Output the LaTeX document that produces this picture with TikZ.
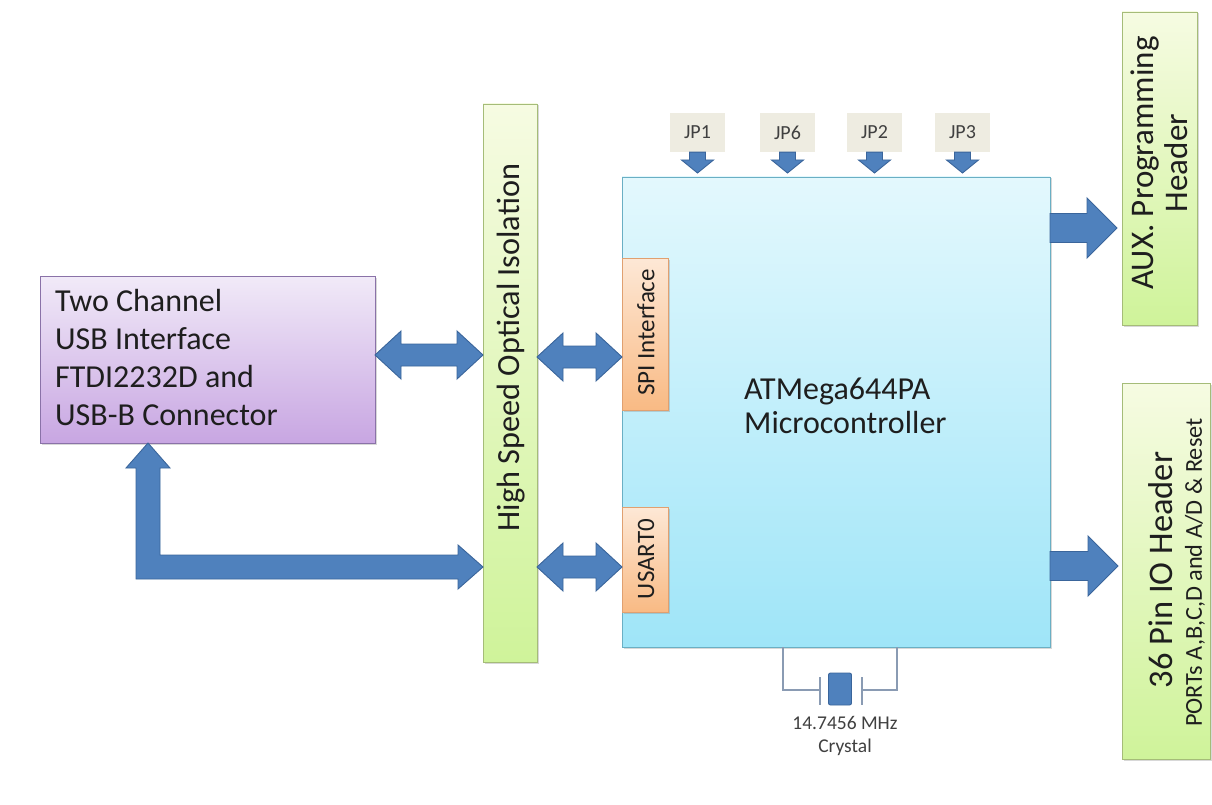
\documentclass[tikz,border=0pt]{standalone}
\usepackage{fontspec}
\setmainfont{Carlito}
\usetikzlibrary{calc,shadows}
\definecolor{purT}{HTML}{F1EAF8}
\definecolor{purB}{HTML}{C8A6E2}
\definecolor{purD}{HTML}{8A72A8}
\definecolor{grnT}{HTML}{F6FBE2}
\definecolor{grnB}{HTML}{CFF39A}
\definecolor{grnD}{HTML}{A5BC78}
\definecolor{cyaT}{HTML}{E3F8FD}
\definecolor{cyaB}{HTML}{9FE5F8}
\definecolor{cyaD}{HTML}{6AAFC4}
\definecolor{ornT}{HTML}{FDE8D6}
\definecolor{ornB}{HTML}{F9BA84}
\definecolor{ornD}{HTML}{E0A070}
\definecolor{jpg}{HTML}{EEECE1}
\definecolor{arrF}{HTML}{4F81BD}
\definecolor{arrD}{HTML}{3A659B}
\definecolor{xtl}{HTML}{8A9BB3}
\definecolor{txtc}{HTML}{1E1E1E}
\newcommand\fsz[2]{\fontsize{#1}{#2}\selectfont}
% horizontal right arrow: from #1 to #2 (same y as #1), half shaft #3, half head #4, head length #5
\newcommand\RArrow[5]{\path[blockarrow] let \p1=(#1), \p2=(#2) in
  (\x1,\y1+#3) -- (\x2-#5,\y1+#3) -- (\x2-#5,\y1+#4) -- (\x2,\y1) -- (\x2-#5,\y1-#4)
  -- (\x2-#5,\y1-#3) -- (\x1,\y1-#3) -- cycle;}
% horizontal double arrow
\newcommand\DblArrow[5]{\path[blockarrow] let \p1=(#1), \p2=(#2) in
  (\x1,\y1) -- (\x1+#5,\y1+#4) -- (\x1+#5,\y1+#3) -- (\x2-#5,\y1+#3) -- (\x2-#5,\y1+#4)
  -- (\x2,\y1) -- (\x2-#5,\y1-#4) -- (\x2-#5,\y1-#3) -- (\x1+#5,\y1-#3) -- (\x1+#5,\y1-#4) -- cycle;}
% downward arrow: from #1 down to #2 (same x as #1)
\newcommand\DnArrow[5]{\path[blockarrow] let \p1=(#1), \p2=(#2) in
  (\x1-#3,\y1) -- (\x1+#3,\y1) -- (\x1+#3,\y2+#5) -- (\x1+#4,\y2+#5) -- (\x1,\y2)
  -- (\x1-#4,\y2+#5) -- (\x1-#3,\y2+#5) -- cycle;}
\begin{document}
\begin{tikzpicture}[x=1pt,y=-1pt,
  box/.style={draw, line width=0.9pt, inner sep=0pt, outer sep=0pt,
    drop shadow={shadow xshift=1.5pt, shadow yshift=-1.5pt, opacity=0.3}},
  purplebox/.style={box, top color=purT, bottom color=purB, draw=purD},
  greenbox/.style={box, top color=grnT, bottom color=grnB, draw=grnD},
  cyanbox/.style={box, top color=cyaT, bottom color=cyaB, draw=cyaD},
  orangebox/.style={box, top color=ornT, bottom color=ornB, draw=ornD},
  jpbox/.style={fill=jpg, inner sep=0pt, minimum width=55pt, minimum height=39pt, font=\fsz{20}{22}, text=txtc!85},
  txt/.style={inner sep=0pt, text=txtc},
  blockarrow/.style={fill=arrF, draw=arrD, line width=0.9pt, line join=miter},
  xtalline/.style={draw=xtl, line width=1.3pt}
]
\useasboundingbox (0,0) rectangle (1212,805);
\fill[white] (0,0) rectangle (1212,805);

% boxes
\node[purplebox, minimum width=335pt, minimum height=167pt] (usb) at (207.5,359.5) {};
\node[txt, font=\fsz{32}{38}, align=left, anchor=west] (usbtext) at (55,358)
  {Two Channel\\USB Interface\\FTDI2232D and\\USB-B Connector};

\node[greenbox, minimum width=54pt, minimum height=558pt] (iso) at (510,383) {};
\node[txt, font=\fsz{32.3}{36}, rotate=90] (isotext) at (511,347.5) {High Speed Optical Isolation};

\node[cyanbox, minimum width=428pt, minimum height=470pt] (mcu) at (836,412) {};
\node[txt, font=\fsz{32}{34}, align=left, anchor=west] (mcutext) at (744,406) {ATMega644PA\\Microcontroller};

\node[orangebox, minimum width=46pt, minimum height=152pt] (spi) at (645,334) {};
\node[txt, font=\fsz{25}{28}, rotate=90] (spitext) at (646,332.5) {SPI Interface};
\node[orangebox, minimum width=46pt, minimum height=105pt] (usart) at (645,559.5) {};
\node[txt, font=\fsz{25}{28}, rotate=90] (usarttext) at (646,559) {USART0};

\node[greenbox, minimum width=75pt, minimum height=313pt] (aux) at (1159.5,168.5) {};
\node[txt, font=\fsz{33}{34}, rotate=90, align=center] (auxtext) at (1159,163) {AUX. Programming\\Header};

\node[greenbox, minimum width=88pt, minimum height=376pt] (io) at (1166,571) {};
\node[txt, font=\fsz{34.5}{36}, rotate=90] (iotext) at (1161,570) {36 Pin IO Header};
\node[txt, font=\fsz{24.3}{26}, rotate=90] (iosub) at (1195,572.5) {PORTs A,B,C,D and A/D \& Reset};

% jumpers
\node[jpbox] (jp1) at (697.5,132.5) {JP1};
\node[jpbox] (jp6) at (787.5,132.5) {JP6};
\node[jpbox] (jp2) at (874.5,132.5) {JP2};
\node[jpbox] (jp3) at (962.5,132.5) {JP3};
\coordinate (jptip) at (0,173);
\foreach \j in {jp1,jp6,jp2,jp3}{
  \DnArrow{\j.south}{\j.south |- jptip}{8pt}{16pt}{13pt}
}

% block arrows
\coordinate (yusb) at (0,355);
\coordinate (yspi) at (0,357);
\coordinate (yusart) at (0,567);
\coordinate (yaux) at (0,228);
\coordinate (yio) at (0,566);
\coordinate (xl) at (148,0);
\DblArrow{usb.east |- yusb}{iso.west |- yusb}{11pt}{24pt}{26pt}
\DblArrow{iso.east |- yspi}{spi.west |- yspi}{11pt}{24pt}{26pt}
\DblArrow{iso.east |- yusart}{usart.west |- yusart}{11pt}{24pt}{26pt}
\coordinate (auxtip) at ($(aux.west |- yaux)+(-5,0)$);
\coordinate (iotip) at ($(io.west |- yio)+(-4,0)$);
\RArrow{mcu.east |- yaux}{auxtip}{14.5pt}{30pt}{30pt}
\RArrow{mcu.east |- yio}{iotip}{14.5pt}{30pt}{30pt}

% L-shaped arrow from USB box to isolation
\path[blockarrow] let \p1=(usb.south -| xl), \p2=(iso.west |- yusart) in
  (\x1,\y1) -- (\x1+22pt,\y1-25pt) -- (\x1+12pt,\y1-25pt) -- (\x1+12pt,\y2+12pt)
  -- (\x2-25pt,\y2+12pt) -- (\x2-25pt,\y2+22pt) -- (\x2,\y2) -- (\x2-25pt,\y2-22pt)
  -- (\x2-25pt,\y2-12pt) -- (\x1-12pt,\y2-12pt) -- (\x1-12pt,\y1-25pt)
  -- (\x1-22pt,\y1-25pt) -- cycle;

% crystal
\node[fill=arrF, draw=arrD, line width=0.9pt, rounded corners=2pt, inner sep=0pt,
  minimum width=23pt, minimum height=32pt] (xtal) at (840,689) {};
\coordinate (xl1) at (783,0);
\coordinate (xr1) at (897,0);
\coordinate (pl) at (820,690);
\coordinate (pr) at (862,690);
\draw[xtalline] (mcu.south -| xl1) |- (pl);
\draw[xtalline] (mcu.south -| xr1) |- (pr);
\draw[xtalline] ($(pl)+(0,-13)$) -- ($(pl)+(0,15)$);
\draw[xtalline] ($(pr)+(0,-13)$) -- ($(pr)+(0,15)$);
\node[txt, font=\fsz{19.5}{23}, align=center, text=txtc!85] (xtaltext) at (845,736) {14.7456 MHz\\Crystal};
\end{tikzpicture}
\end{document}
